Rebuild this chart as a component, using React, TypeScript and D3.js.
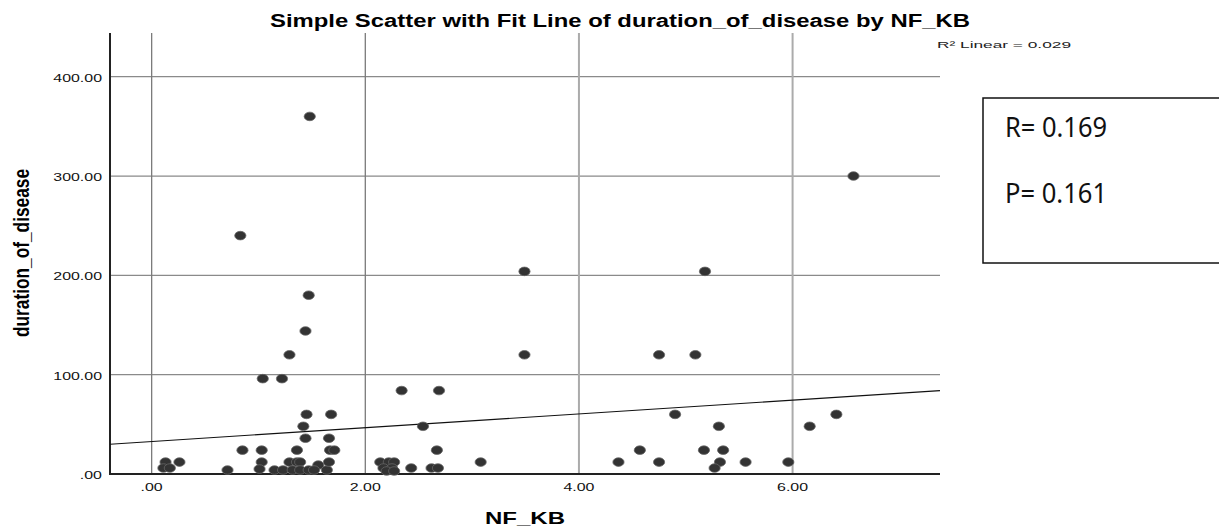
import React, { useRef, useEffect } from "react";
import * as d3 from "d3";

// NF_KB (x) vs duration_of_disease (y)
const nfkb = [
  0.13, 0.26, 0.11, 0.17, 0.71, 0.83, 0.85, 1.03, 1.03, 1.01, 1.04, 1.22, 1.15, 1.23,
  1.29, 1.29, 1.32, 1.36, 1.36, 1.39, 1.39, 1.42, 1.44, 1.44, 1.45, 1.47, 1.47, 1.48,
  1.56, 1.64, 1.66, 1.66, 1.67, 1.68, 1.71, 1.52, 2.14, 2.22, 2.27, 2.17, 2.25, 2.2,
  2.27, 2.34, 2.43, 2.54, 2.62, 2.68, 2.67, 2.69, 3.08, 3.49, 3.49, 4.37, 4.57, 4.75,
  4.75, 4.9, 5.09, 5.18, 5.17, 5.35, 5.31, 5.32, 5.27, 5.56, 5.96, 6.16, 6.41, 6.57,
];
const duration = [
  12, 12, 6, 6, 4, 240, 24, 24, 12, 5, 96, 96, 4, 4,
  120, 12, 4, 24, 12, 12, 4, 48, 36, 144, 60, 180, 4, 360,
  9, 4, 12, 36, 24, 60, 24, 4, 12, 12, 12, 6, 6, 3,
  3, 84, 6, 48, 6, 6, 24, 84, 12, 204, 120, 12, 24, 12,
  120, 60, 120, 204, 24, 24, 48, 12, 6, 12, 12, 48, 60, 300,
];

const xTicks = [0, 2, 4, 6];
const yTicks = [0, 100, 200, 300, 400];

// fit line as shown in the chart
const fitIntercept = 32.7;
const fitSlope = 6.95;

const title = "Simple Scatter with Fit Line of duration_of_disease by NF_KB";
const r2Label = "R\u00b2 Linear = 0.029";
const statLines = ["R= 0.169", "P= 0.161"];

function fmt(v) {
  // SPSS style: .00, 2.00, 100.00
  const s = d3.format(".2f")(v);
  return s.startsWith("0.") ? s.slice(1) : s;
}

// the picture is stretched sideways, so widths are fixed per glyph
function tickWidth(s) {
  let w = 0;
  for (const c of s) w += c === "." ? 4.45 : 8.85;
  return w;
}

function ScatterFit() {
  const svgRef = useRef();
  const width = 1219;
  const height = 528;

  useEffect(() => {
    const svg = d3.select(svgRef.current);
    svg.selectAll("*").remove();

    const x = d3.scaleLinear().domain([-0.39, 7.38]).range([110, 940]);
    const y = d3.scaleLinear().domain([0, 444]).range([474, 33]);
    const [x0, x1] = x.range();
    const [yBottom, yTop] = y.range();

    svg.append("rect").attr("width", width).attr("height", height).attr("fill", "white");

    // title
    svg
      .append("text")
      .attr("x", 270)
      .attr("y", 27)
      .attr("font-family", "Liberation Sans, Arial, sans-serif")
      .attr("font-weight", "bold")
      .attr("font-size", 18)
      .attr("textLength", 700)
      .attr("lengthAdjust", "spacingAndGlyphs")
      .text(title);

    // horizontal grid
    svg
      .append("g")
      .selectAll("line")
      .data(yTicks.filter((d) => d > 0))
      .join("line")
      .attr("x1", x0)
      .attr("x2", x1)
      .attr("y1", (d) => y(d))
      .attr("y2", (d) => y(d))
      .attr("stroke", "#8a8a8a")
      .attr("stroke-width", 1.3);

    // vertical grid
    svg
      .append("g")
      .selectAll("line")
      .data(xTicks)
      .join("line")
      .attr("x1", (d) => x(d))
      .attr("x2", (d) => x(d))
      .attr("y1", yTop)
      .attr("y2", yBottom)
      .attr("stroke", (d) => (d >= 4 ? "#ababab" : "#7a7a7a"))
      .attr("stroke-width", (d) => (d >= 4 ? 2 : 1.3));

    // axes
    svg
      .append("line")
      .attr("x1", x0)
      .attr("x2", x0)
      .attr("y1", yTop)
      .attr("y2", yBottom + 1)
      .attr("stroke", "#222")
      .attr("stroke-width", 2);
    svg
      .append("line")
      .attr("x1", x0)
      .attr("x2", x1)
      .attr("y1", yBottom)
      .attr("y2", yBottom)
      .attr("stroke", "#222")
      .attr("stroke-width", 2);

    // tick labels
    svg
      .append("g")
      .selectAll("text")
      .data(yTicks)
      .join("text")
      .attr("x", 102)
      .attr("y", (d) => y(d) + 5)
      .attr("text-anchor", "end")
      .attr("font-family", "Liberation Sans, Arial, sans-serif")
      .attr("font-size", 10.5)
      .attr("fill", "#111")
      .attr("textLength", (d) => tickWidth(fmt(d)))
      .attr("lengthAdjust", "spacingAndGlyphs")
      .text((d) => fmt(d));

    svg
      .append("g")
      .selectAll("text")
      .data(xTicks)
      .join("text")
      .attr("x", (d) => x(d))
      .attr("y", 491)
      .attr("text-anchor", "middle")
      .attr("font-family", "Liberation Sans, Arial, sans-serif")
      .attr("font-size", 10.5)
      .attr("fill", "#111")
      .attr("textLength", (d) => tickWidth(fmt(d)))
      .attr("lengthAdjust", "spacingAndGlyphs")
      .text((d) => fmt(d));

    // axis titles
    svg
      .append("text")
      .attr("x", 525)
      .attr("y", 524)
      .attr("text-anchor", "middle")
      .attr("font-family", "Liberation Sans, Arial, sans-serif")
      .attr("font-weight", "bold")
      .attr("font-size", 17)
      .attr("textLength", 80)
      .attr("lengthAdjust", "spacingAndGlyphs")
      .text("NF_KB");

    svg
      .append("g")
      .attr("transform", "translate(29,253) scale(1.45,1) rotate(-90)")
      .append("text")
      .attr("text-anchor", "middle")
      .attr("font-family", "Liberation Sans, Arial, sans-serif")
      .attr("font-weight", "bold")
      .attr("font-size", 15)
      .attr("textLength", 168)
      .attr("lengthAdjust", "spacingAndGlyphs")
      .text("duration_of_disease");

    // fit line
    const line = d3
      .line()
      .x((d) => x(d))
      .y((d) => y(fitIntercept + fitSlope * d));
    svg
      .append("path")
      .attr("d", line(x.domain()))
      .attr("fill", "none")
      .attr("stroke", "#111")
      .attr("stroke-width", 1.1);

    // points
    svg
      .append("g")
      .selectAll("ellipse")
      .data(d3.range(nfkb.length))
      .join("ellipse")
      .attr("cx", (i) => x(nfkb[i]))
      .attr("cy", (i) => y(duration[i]))
      .attr("rx", 5.6)
      .attr("ry", 4.3)
      .attr("fill", "#333")
      .attr("stroke", "#666")
      .attr("stroke-width", 0.8);

    // R2 label
    svg
      .append("text")
      .attr("x", 937)
      .attr("y", 48)
      .attr("font-family", "Liberation Sans, Arial, sans-serif")
      .attr("font-size", 9)
      .attr("fill", "#222")
      .attr("textLength", 134)
      .attr("lengthAdjust", "spacingAndGlyphs")
      .text(r2Label);

    // stats box
    svg
      .append("rect")
      .attr("x", 983)
      .attr("y", 98)
      .attr("width", 260)
      .attr("height", 165)
      .attr("fill", "white")
      .attr("stroke", "#111")
      .attr("stroke-width", 1.5);

    svg
      .append("g")
      .selectAll("text")
      .data(statLines)
      .join("text")
      .attr("x", 1005)
      .attr("y", (d, i) => 137 + i * 66)
      .attr("font-family", "Noto Sans, Open Sans, sans-serif")
      .attr("font-size", 27)
      .attr("fill", "#111")
      .attr("textLength", 102)
      .attr("lengthAdjust", "spacingAndGlyphs")
      .text((d) => d);
  }, []);

  return (
    <svg
      ref={svgRef}
      width={width}
      height={height}
      style={{ position: "absolute", left: 0, top: 0, display: "block" }}
    ></svg>
  );
}

export default function App() {
  return <ScatterFit />;
}
